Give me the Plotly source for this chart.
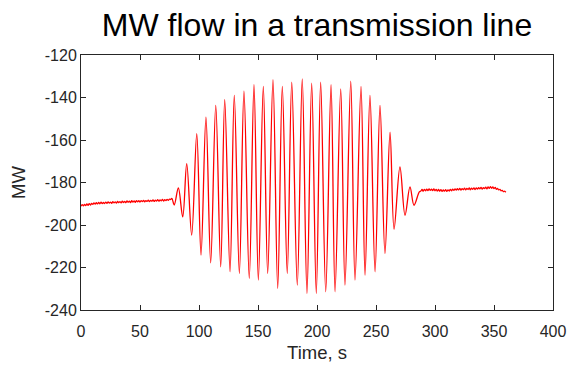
import plotly.graph_objects as go

# --- data ---
# quiet period before the oscillation (1 s steps from t = 0)
pre_t = list(range(0, 78))
pre_mw = [
    -191.2, -190.4, -191.0, -190.3, -190.9, -190.1, -190.7, -189.9, -190.6, -189.8,
    -190.3, -189.6, -190.2, -189.5, -190.1, -189.4, -190.0, -189.3, -189.9, -189.4,
    -189.9, -189.2, -189.8, -189.1, -189.7, -189.2, -189.8, -189.0, -189.6, -189.1,
    -189.7, -188.9, -189.5, -189.0, -189.6, -188.8, -189.4, -188.9, -189.5, -188.7,
    -189.3, -188.8, -189.4, -188.6, -189.2, -188.7, -189.3, -188.5, -189.1, -188.6,
    -189.2, -188.5, -189.0, -188.4, -189.1, -188.5, -188.9, -188.3, -189.0, -188.4,
    -188.8, -188.2, -188.9, -188.3, -188.7, -188.1, -188.8, -188.2, -188.6, -188.0,
    -188.7, -188.1, -188.5, -187.9, -188.4, -187.8, -188.0, -187.5,
]

# oscillation: successive extremes (time, MW)
osc_t = [
    79.0, 82.5, 86.2, 89.6, 93.8, 98.1, 101.7, 105.9, 109.9, 114.2, 118.4, 121.8,
    126.3, 129.9, 134.2, 138.1, 142.6, 146.6, 150.3, 154.5, 158.2, 162.7, 166.7,
    170.6, 174.8, 178.6, 183.3, 187.5, 191.5, 195.5, 199.4, 203.1, 207.4, 211.9,
    215.3, 220.1, 223.7, 228.6, 232.2, 237.3, 240.7, 244.9, 249.2, 253.4, 257.6,
    261.9, 265.3, 270.3, 274.6, 278.8, 282.2, 286.7,
]
osc_mw = [
    -190.6, -182.6, -196.2, -171.1, -204.8, -157.0, -214.2, -149.2, -217.8, -143.7,
    -219.7, -141.0, -222.0, -139.0, -222.8, -137.0, -225.1, -133.9, -225.9, -134.8,
    -222.8, -131.6, -229.8, -134.8, -222.8, -132.8, -228.3, -131.2, -232.2, -133.2,
    -232.2, -132.8, -231.4, -133.9, -231.4, -135.9, -228.3, -132.3, -225.9, -134.8,
    -223.6, -139.0, -222.0, -143.7, -213.4, -156.3, -202.0, -172.7, -195.4, -182.1,
    -190.7, -184.4,
]

# settled period after the oscillation (1 s steps from t = 288)
post_t = list(range(288, 361))
post_mw = [
    -184.0, -183.3, -184.1, -183.2, -183.9, -183.1, -183.8, -183.0, -183.7, -183.1,
    -183.8, -183.0, -183.9, -183.2, -184.0, -183.3, -184.1, -183.4, -184.2, -183.5,
    -184.1, -183.4, -184.2, -183.5, -184.0, -183.2, -183.9, -183.1, -183.7, -183.0,
    -183.6, -182.9, -183.5, -182.8, -183.6, -182.9, -183.4, -182.7, -183.5, -182.8,
    -183.3, -182.6, -183.4, -182.7, -183.2, -182.5, -183.3, -182.6, -183.1, -182.4,
    -183.0, -182.3, -183.1, -182.4, -182.9, -182.2, -183.0, -182.1, -182.8, -182.0,
    -182.7, -182.1, -182.9, -182.3, -183.2, -182.8, -183.5, -183.2, -183.9, -183.7,
    -184.3, -184.1, -184.6,
]

x_ticks = [0, 50, 100, 150, 200, 250, 300, 350, 400]
x_labels = ["0", "50", "100", "150", "200", "250", "300", "350", "400"]
y_ticks = [-240, -220, -200, -180, -160, -140, -120]
y_labels = ["-240", "-220", "-200", "-180", "-160", "-140", "-120"]

t_all = pre_t + osc_t + post_t
mw_all = pre_mw + osc_mw + post_mw

FONT = "Liberation Sans, Arial, Helvetica, sans-serif"
AX = "#262626"

fig = go.Figure()
fig.add_trace(go.Scatter(
    x=t_all, y=mw_all, mode="lines",
    line=dict(color="#FF0000", width=1.3, shape="spline", smoothing=1.0),
    showlegend=False, hoverinfo="skip",
))

axis_common = dict(
    showline=True, linecolor=AX, linewidth=1, mirror="ticks",
    ticks="inside", ticklen=5, tickwidth=1, tickcolor=AX,
    showgrid=False, zeroline=False, automargin=False,
    tickfont=dict(family=FONT, size=16, color=AX),
)

fig.update_layout(
    width=567, height=366,
    margin=dict(l=81, r=14, t=55, b=56),
    paper_bgcolor="white", plot_bgcolor="white",
    title=dict(
        text="MW flow in a transmission line",
        font=dict(family=FONT, size=32, color="black"),
        x=0.5, xref="paper", xanchor="center",
        y=0.932, yref="container", yanchor="middle",
    ),
    xaxis=dict(range=[0, 400], tickvals=x_ticks, ticktext=x_labels,
               ticklabelstandoff=7,
               title=dict(text="Time, s", font=dict(family=FONT, size=18.5, color=AX),
                          standoff=6),
               **axis_common),
    yaxis=dict(range=[-240, -120], tickvals=y_ticks, ticktext=y_labels,
               title=dict(text="MW", font=dict(family=FONT, size=18.5, color=AX),
                          standoff=14),
               **axis_common),
)

fig.write_html(
    "out.html",
    config={"displayModeBar": False, "staticPlot": True},
    post_script="document.body.style.margin='0';document.body.style.overflow='hidden';",
)
